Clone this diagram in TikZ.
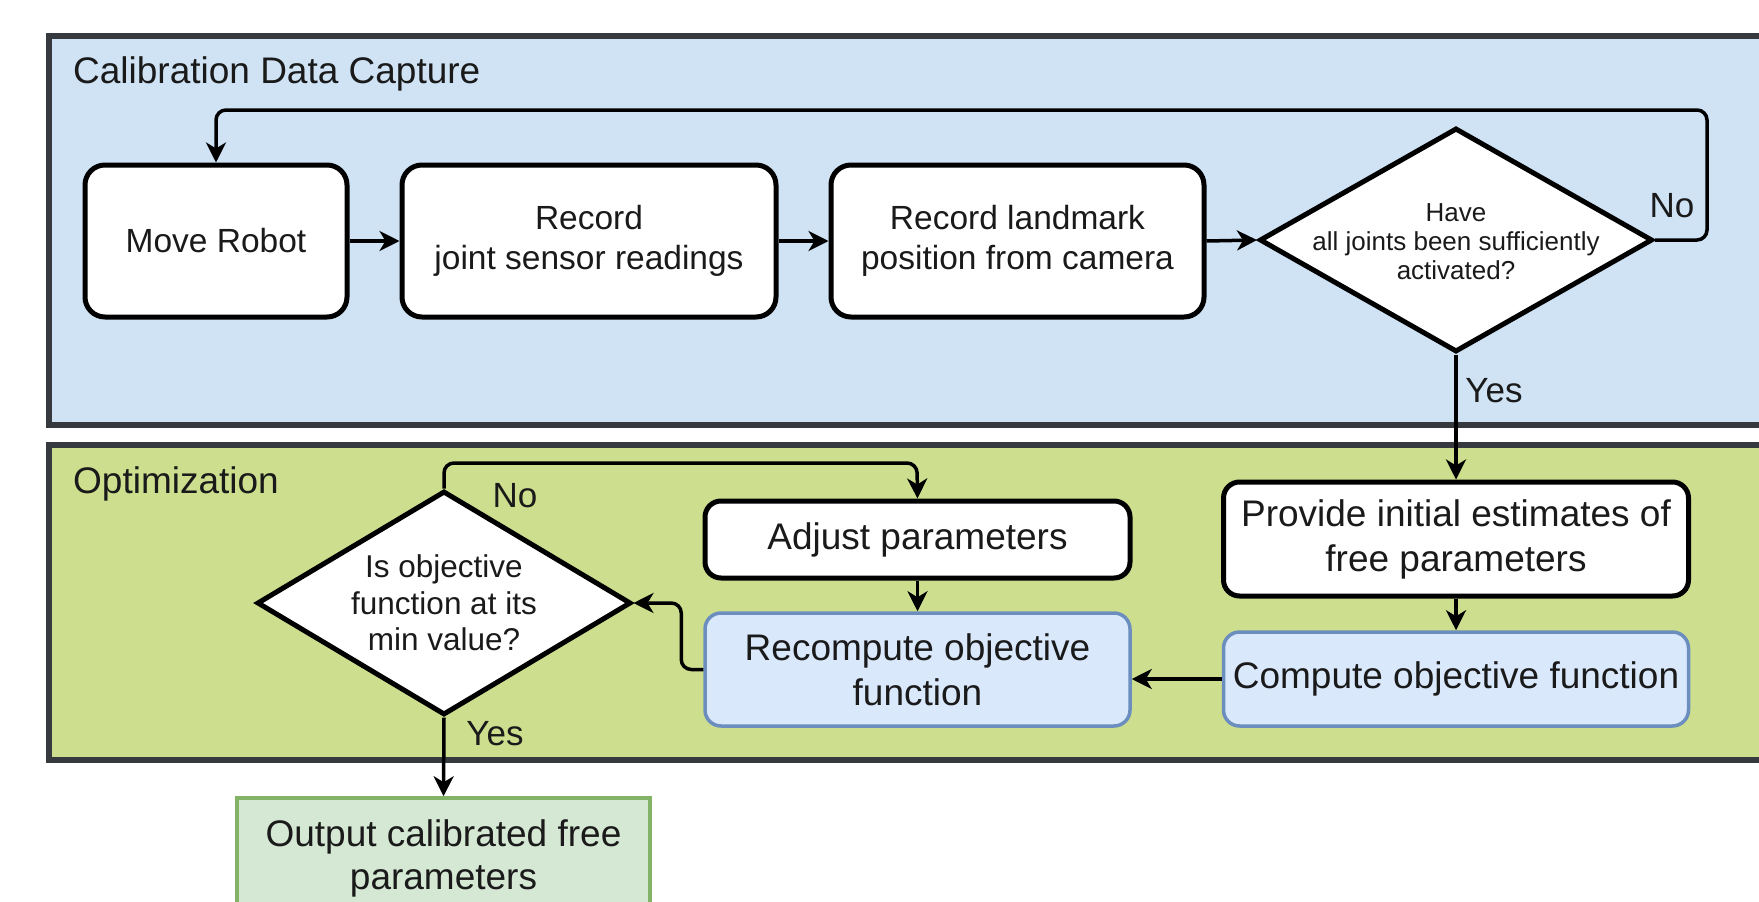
\documentclass[tikz,border=0pt]{standalone}
\usepackage{fontspec}
\setmainfont{Liberation Sans}
\usetikzlibrary{shapes.geometric,arrows.meta,calc}
\definecolor{panelblue}{HTML}{CFE3F5}
\definecolor{panelgreen}{HTML}{CDDF8E}
\definecolor{panelborder}{HTML}{363A3E}
\definecolor{boxblue}{HTML}{DAE8FC}
\definecolor{boxblueborder}{HTML}{6C8EBF}
\definecolor{boxgreen}{HTML}{D5E8D4}
\definecolor{boxgreenborder}{HTML}{82B366}
\definecolor{txt}{HTML}{1A1A1A}
\tikzset{
  panel/.style={draw=panelborder, line width=6pt},
  paneltitle/.style={anchor=base west, inner sep=0pt, text=txt, font=\fontsize{37}{44}\selectfont},
  topbox/.style={draw=black, fill=white, line width=5pt, rounded corners=20pt, align=center, inner sep=0pt,
    text=txt, font=\fontsize{33.5}{39.5}\selectfont},
  botbox/.style={draw=black, fill=white, line width=5pt, rounded corners=16pt, align=center, inner sep=0pt,
    text=txt, font=\fontsize{37}{45}\selectfont},
  bluebox/.style={draw=boxblueborder, fill=boxblue, line width=3.5pt, rounded corners=16pt, align=center, inner sep=0pt,
    text=txt, font=\fontsize{37}{45}\selectfont},
  greenbox/.style={draw=boxgreenborder, fill=boxgreen, line width=3.5pt, align=center, inner sep=0pt,
    text=txt, font=\fontsize{37}{43}\selectfont},
  decision/.style={diamond, draw=black, fill=white, line width=5pt, inner sep=0pt},
  conn/.style={draw=black, line width=3.5pt, rounded corners=10pt,
    -{Stealth[length=20pt, width=20pt, inset=6pt]}},
  lbl/.style={inner sep=0pt, text=txt, font=\fontsize{35}{42}\selectfont},
}
\begin{document}
\begin{tikzpicture}[x=1pt, y=-1pt]
\useasboundingbox (0,0) rectangle (1759,902);
\clip (0,0) rectangle (1759,902);
\fill[white] (0,0) rectangle (1759,902);

% panels
\draw[panel, fill=panelblue] (48.5,36) rectangle (1800,425);
\draw[panel, fill=panelgreen] (48.5,445) rectangle (1800,760);
\node[paneltitle] (t1) at (73,83) {Calibration Data Capture};
\node[paneltitle] (t2) at (73,493) {Optimization};

% top row
\node[topbox, minimum width=262pt, minimum height=152pt] (move) at (216,241) {Move Robot};
\node[topbox, minimum width=374pt, minimum height=152pt] (rec1) at (589,241) {Record\\joint sensor readings};
\node[topbox, minimum width=373pt, minimum height=152pt] (rec2) at (1017.5,241) {Record landmark\\position from camera};
\node[decision, minimum width=393pt, minimum height=224pt,
  label={[align=center, text=txt, font=\fontsize{26}{29}\selectfont, yshift=-2pt]center:Have\\all joints been sufficiently\\activated?}] (d1) at (1456,240) {};

% bottom panel
\node[botbox, minimum width=465pt, minimum height=114pt] (prov) at (1456,539) {Provide initial estimates of\\free parameters};
\node[bluebox, minimum width=465pt, minimum height=94pt] (comp) at (1456,679) {Compute objective function};
\node[botbox, minimum width=425pt, minimum height=77pt] (adj) at (917.5,539.5) {Adjust parameters};
\node[bluebox, minimum width=425pt, minimum height=113pt] (recomp) at (917.5,669.5) {Recompute objective\\function};
\node[decision, minimum width=374pt, minimum height=224pt,
  label={[align=center, text=txt, font=\fontsize{31.5}{36.5}\selectfont]center:Is objective\\function at its\\min value?}] (d2) at (444,603) {};
\node[greenbox, minimum width=413pt, minimum height=120pt] (out) at (443.5,858) {Output calibrated free\\parameters};

% connectors
\coordinate (loop1) at (1707,110);
\coordinate (loop2) at (917,463);
\draw[conn] (move.east) -- (rec1.west);
\draw[conn] (rec1.east) -- (rec2.west);
\draw[conn] (rec2.east) -- (d1.west);
\draw[conn] (d1.east) -| (loop1) -| (move.north);
\draw[conn] (d1.south) -- (prov.north);
\draw[conn] (prov.south) -- (comp.north);
\draw[conn] (comp.west) -- (recomp.east |- comp.west);
\draw[conn] (recomp.west) -- ++(-22,0) |- (d2.east);
\draw[conn] (d2.north) |- (loop2) -- (adj.north);
\draw[conn] (adj.south) -- (recomp.north);
\draw[conn] (d2.south) -- (out.north);

% labels
\node[lbl] (no1) at (1672,206) {No};
\node[lbl] (yes1) at (1494,391) {Yes};
\node[lbl] (no2) at (515,496) {No};
\node[lbl] (yes2) at (495,734) {Yes};
\end{tikzpicture}
\end{document}
